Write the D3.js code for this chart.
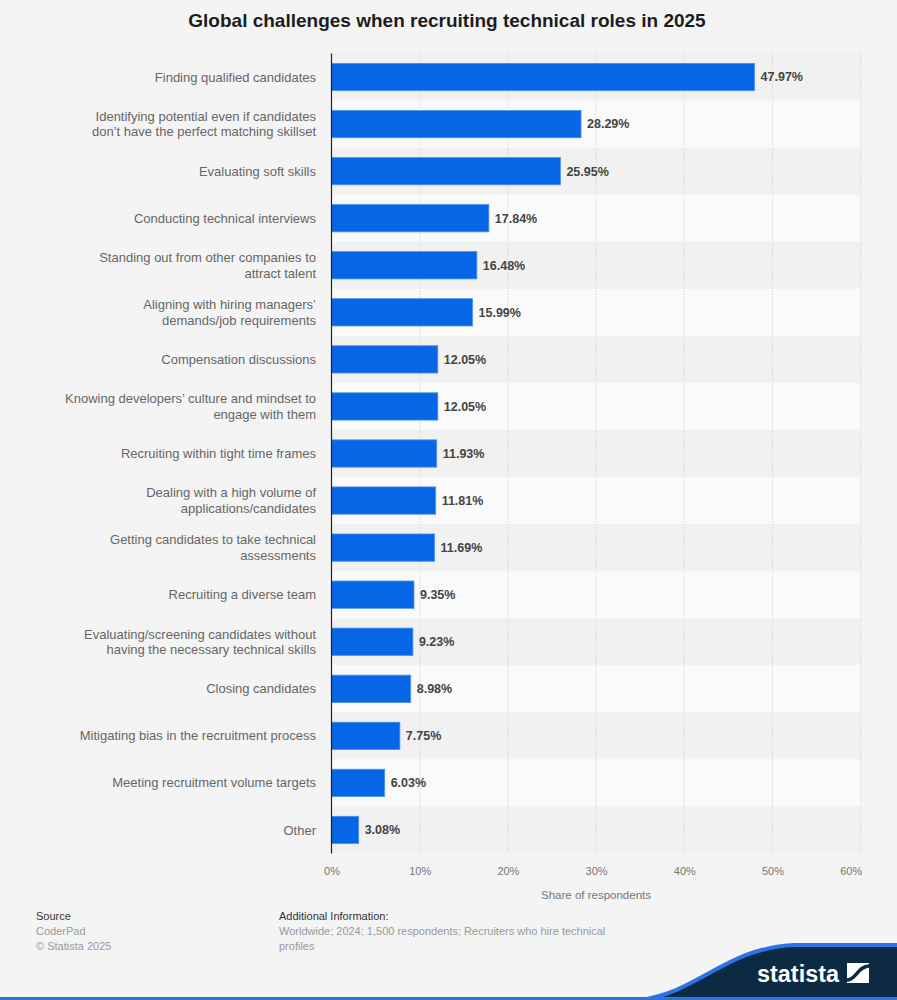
<!DOCTYPE html>
<html>
<head>
<meta charset="utf-8">
<script src="https://cdn.jsdelivr.net/npm/d3@7"></script>
<style>
  html, body { margin: 0; padding: 0; background: #f4f4f4; }
  svg { display: block; font-family: "Liberation Sans", Arial, sans-serif; }
</style>
</head>
<body>
<svg id="chart"></svg>
<script>
// data
const categories = [
  ["Finding qualified candidates"],
  ["Identifying potential even if candidates", "don’t have the perfect matching skillset"],
  ["Evaluating soft skills"],
  ["Conducting technical interviews"],
  ["Standing out from other companies to", "attract talent"],
  ["Aligning with hiring managers’", "demands/job requirements"],
  ["Compensation discussions"],
  ["Knowing developers’ culture and mindset to", "engage with them"],
  ["Recruiting within tight time frames"],
  ["Dealing with a high volume of", "applications/candidates"],
  ["Getting candidates to take technical", "assessments"],
  ["Recruiting a diverse team"],
  ["Evaluating/screening candidates without", "having the necessary technical skills"],
  ["Closing candidates"],
  ["Mitigating bias in the recruitment process"],
  ["Meeting recruitment volume targets"],
  ["Other"]
];
const values = [47.97, 28.29, 25.95, 17.84, 16.48, 15.99, 12.05, 12.05, 11.93, 11.81, 11.69, 9.35, 9.23, 8.98, 7.75, 6.03, 3.08];
const xTicks = [0, 10, 20, 30, 40, 50, 60];

const title = "Global challenges when recruiting technical roles in 2025";
const axisTitle = "Share of respondents";
const sourceLines = ["CoderPad", "© Statista 2025"];
const infoLines = ["Worldwide; 2024; 1,500 respondents; Recruiters who hire technical", "profiles"];

class BarChart {
  constructor(_config) {
    this.config = {
      parentElement: _config.parentElement,
      containerWidth: _config.containerWidth || 897,
      containerHeight: _config.containerHeight || 1000,
      plot: { left: 331.5, right: 860.7, top: 53.5, bottom: 853.5 }
    }
    this.initVis();
  }

  initVis() {
    let vis = this;
    let p = vis.config.plot;

    vis.svg = d3.select(vis.config.parentElement)
        .attr('width', vis.config.containerWidth)
        .attr('height', vis.config.containerHeight);

    vis.svg.append('rect')
        .attr('width', vis.config.containerWidth)
        .attr('height', vis.config.containerHeight)
        .attr('fill', '#f4f4f4');

    vis.x = d3.scaleLinear().domain([0, 60]).range([p.left, p.right]);
    vis.rows = d3.scaleBand().domain(d3.range(values.length)).range([p.top, p.bottom]);
    vis.y = d3.scaleBand().domain(d3.range(values.length)).range([p.top, p.bottom])
        .paddingInner(0.42).paddingOuter(0.21);

    vis.updateVis();
  }

  updateVis() {
    let vis = this;
    let p = vis.config.plot;

    vis.svg.append('text')
        .attr('x', 447)
        .attr('y', 27)
        .attr('text-anchor', 'middle')
        .style('font-size', '19px')
        .style('font-weight', 'bold')
        .style('fill', '#1c1c1c')
        .text(title);

    // alternating row backgrounds
    vis.svg.append('g')
      .selectAll('rect')
      .data(values)
      .enter()
      .append('rect')
        .attr('x', p.left)
        .attr('y', (d, i) => vis.rows(i))
        .attr('width', p.right - p.left)
        .attr('height', vis.rows.bandwidth())
        .attr('fill', (d, i) => i % 2 ? '#fafafa' : '#f1f1f1');

    // gridlines
    vis.svg.append('g')
      .selectAll('line')
      .data(xTicks.slice(1))
      .enter()
      .append('line')
        .attr('x1', d => vis.x(d))
        .attr('x2', d => vis.x(d))
        .attr('y1', p.top)
        .attr('y2', p.bottom)
        .style('stroke', '#c8c8c8')
        .style('stroke-width', 1)
        .style('stroke-dasharray', '1,2');

    // bars
    vis.svg.append('g')
      .selectAll('rect')
      .data(values)
      .enter()
      .append('rect')
        .attr('x', vis.x(0))
        .attr('y', (d, i) => vis.y(i))
        .attr('width', d => vis.x(d) - vis.x(0))
        .attr('height', vis.y.bandwidth())
        .style('fill', '#0766e5')
        .style('stroke', '#4a92f0')
        .style('stroke-width', 0.8);

    // value labels
    vis.svg.append('g')
      .selectAll('text')
      .data(values)
      .enter()
      .append('text')
        .attr('x', d => vis.x(d) + 6)
        .attr('y', (d, i) => vis.y(i) + vis.y.bandwidth() / 2)
        .attr('dy', '0.35em')
        .style('font-size', '12.5px')
        .style('font-weight', 'bold')
        .style('fill', '#444')
        .text(d => d.toFixed(2) + '%');

    // category labels
    let labels = vis.svg.append('g')
      .selectAll('text')
      .data(categories)
      .enter()
      .append('text')
        .attr('text-anchor', 'end')
        .style('font-size', '13px')
        .style('fill', '#666');
    labels.each(function(lines, i) {
      let cy = vis.rows(i) + vis.rows.bandwidth() / 2;
      let start = cy - (lines.length - 1) * 15.5 / 2;
      d3.select(this).selectAll('tspan')
        .data(lines)
        .enter()
        .append('tspan')
          .attr('x', 316)
          .attr('y', (l, j) => start + j * 15.5)
          .attr('dy', '0.35em')
          .text(l => l);
    });

    // axis line
    vis.svg.append('line')
        .attr('x1', vis.x(0)).attr('x2', vis.x(0))
        .attr('y1', p.top).attr('y2', p.bottom)
        .style('stroke', '#222')
        .style('stroke-width', 1.2);

    let xAxis = d3.axisBottom(vis.x).tickValues(xTicks).tickFormat(d => d + '%').tickSize(0).tickPadding(0);
    let ax = vis.svg.append('g')
        .attr('transform', `translate(0,${p.bottom + 14})`)
        .call(xAxis);
    ax.select('.domain').remove();
    ax.selectAll('text')
        .style('font-family', '"Liberation Sans", Arial, sans-serif')
        .style('font-size', '11px')
        .style('fill', '#777');
    // last label is kept inside the plot
    ax.selectAll('.tick').filter(d => d === 60).select('text')
        .attr('text-anchor', 'end')
        .attr('x', 1);

    vis.svg.append('text')
        .attr('x', 596)
        .attr('y', 899)
        .attr('text-anchor', 'middle')
        .style('font-size', '11.5px')
        .style('fill', '#777')
        .text(axisTitle);

    // footer
    let foot = vis.svg.append('g').style('font-size', '11px');
    foot.append('text').attr('x', 36).attr('y', 920).style('fill', '#333').text('Source');
    foot.selectAll('.src').data(sourceLines).enter().append('text')
        .attr('x', 36).attr('y', (d, i) => 935 + i * 14.5).style('fill', '#999').text(d => d);
    foot.append('text').attr('x', 279).attr('y', 920).style('fill', '#333').text('Additional Information:');
    foot.selectAll('.inf').data(infoLines).enter().append('text')
        .attr('x', 279).attr('y', (d, i) => 935 + i * 14.5).style('fill', '#999').text(d => d);

    // logo
    vis.svg.append('path')
        .attr('d', 'M640,1000 C700,992 725,948 795,945 L897,945 L897,1000 Z')
        .style('fill', '#0c2a44');
    vis.svg.append('path')
        .attr('d', 'M640,1000 C700,992 725,948 795,945 L897,945')
        .style('fill', 'none')
        .style('stroke', '#2b74e3')
        .style('stroke-width', 4);
    vis.svg.append('rect')
        .attr('x', 0).attr('y', 997).attr('width', 897).attr('height', 3)
        .style('fill', '#2b74e3');
    vis.svg.append('text')
        .attr('x', 757).attr('y', 982)
        .attr('textLength', 82).attr('lengthAdjust', 'spacingAndGlyphs')
        .style('font-size', '23px')
        .style('font-weight', 'bold')
        .style('fill', '#fff')
        .text('statista');
    vis.svg.append('rect')
        .attr('x', 847).attr('y', 963).attr('width', 22).attr('height', 20)
        .style('fill', '#fff');
    vis.svg.append('path')
        .attr('d', 'M847,980 C856,980 858,966 869,966')
        .style('fill', 'none')
        .style('stroke', '#0c2a44')
        .style('stroke-width', 3.5);
  }
}

new BarChart({ parentElement: '#chart' });
</script>
</body>
</html>
